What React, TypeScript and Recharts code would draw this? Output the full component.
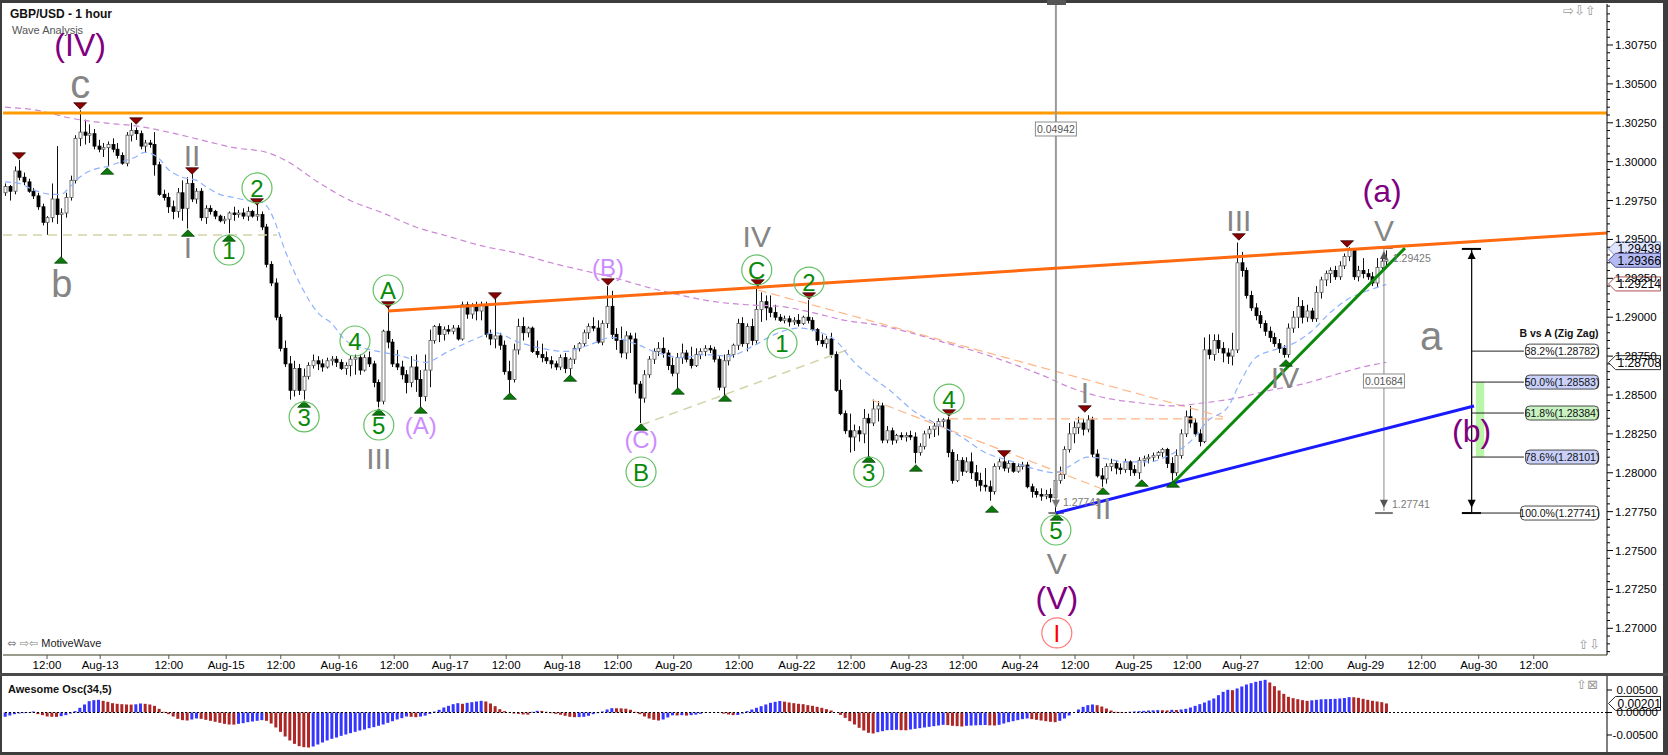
import React from "react";
import {
  ComposedChart,
  Bar,
  Line,
  XAxis,
  YAxis,
  Cell,
  ReferenceLine,
  ReferenceDot,
  ReferenceArea,
} from "recharts";

const FONT = "'Liberation Sans', Arial, sans-serif";
const ICON_FONT = "'DejaVu Sans', sans-serif";

// GBP/USD hourly bars: [open, high, low, close]
const candles: [number, number, number, number][] = [
  [1.298, 1.2986, 1.2978, 1.2984], [1.2984, 1.2985, 1.2975, 1.2981], [1.2981, 1.2997, 1.2979, 1.2994], [1.2994, 1.3001, 1.2988, 1.299], [1.299, 1.2993, 1.2985, 1.2987],
  [1.2987, 1.2989, 1.298, 1.2981], [1.2981, 1.2983, 1.2976, 1.2978], [1.2978, 1.298, 1.2969, 1.2971], [1.2971, 1.2973, 1.2959, 1.2961], [1.2961, 1.2965, 1.2953, 1.2964],
  [1.2964, 1.2986, 1.2961, 1.2976], [1.2976, 1.301, 1.296, 1.2966], [1.2966, 1.297, 1.2938, 1.2967], [1.2967, 1.298, 1.2964, 1.2977], [1.2977, 1.2991, 1.2975, 1.2988],
  [1.2988, 1.3017, 1.2986, 1.3015], [1.3015, 1.3033, 1.301, 1.3019], [1.3019, 1.3027, 1.3011, 1.3017], [1.3017, 1.3024, 1.3012, 1.3018], [1.3018, 1.3021, 1.3008, 1.301],
  [1.301, 1.3014, 1.3006, 1.3008], [1.3008, 1.3012, 1.3003, 1.3009], [1.3009, 1.3013, 1.2997, 1.3011], [1.3011, 1.3015, 1.3006, 1.3008], [1.3008, 1.3012, 1.3002, 1.3004],
  [1.3004, 1.3006, 1.2998, 1.2999], [1.2999, 1.3019, 1.2997, 1.3017], [1.3017, 1.3025, 1.3013, 1.302], [1.302, 1.3022, 1.3014, 1.3018], [1.3018, 1.302, 1.3008, 1.301],
  [1.301, 1.3014, 1.3006, 1.3012], [1.3012, 1.3014, 1.3009, 1.3011], [1.3011, 1.3019, 1.2991, 1.2998], [1.2998, 1.3, 1.2978, 1.2979], [1.2979, 1.2982, 1.2975, 1.2977],
  [1.2977, 1.298, 1.2967, 1.2971], [1.2971, 1.2975, 1.2963, 1.2968], [1.2968, 1.2983, 1.2964, 1.298], [1.298, 1.2988, 1.2962, 1.297], [1.297, 1.299, 1.2957, 1.2986],
  [1.2986, 1.2992, 1.2974, 1.2976], [1.2976, 1.2983, 1.2973, 1.2981], [1.2981, 1.2983, 1.2962, 1.2964], [1.2964, 1.2972, 1.296, 1.297], [1.297, 1.2972, 1.2966, 1.2968],
  [1.2968, 1.2969, 1.2963, 1.2965], [1.2965, 1.2966, 1.2961, 1.2962], [1.2962, 1.2965, 1.296, 1.2963], [1.2963, 1.2968, 1.2954, 1.2967], [1.2967, 1.2971, 1.2962, 1.2966],
  [1.2966, 1.2969, 1.2964, 1.2967], [1.2967, 1.297, 1.2963, 1.2965], [1.2965, 1.2971, 1.2962, 1.2968], [1.2968, 1.2969, 1.2964, 1.2965], [1.2965, 1.2974, 1.2962, 1.2966],
  [1.2966, 1.2968, 1.2956, 1.2958], [1.2958, 1.296, 1.2932, 1.2934], [1.2934, 1.2936, 1.292, 1.2922], [1.2922, 1.2925, 1.2898, 1.29], [1.29, 1.2902, 1.2878, 1.288],
  [1.288, 1.2885, 1.2868, 1.287], [1.287, 1.2875, 1.2847, 1.2853], [1.2853, 1.2872, 1.2849, 1.2867], [1.2867, 1.287, 1.285, 1.2853], [1.2853, 1.2867, 1.2847, 1.2862],
  [1.2862, 1.2871, 1.286, 1.2869], [1.2869, 1.2876, 1.2867, 1.2872], [1.2872, 1.2875, 1.2866, 1.287], [1.287, 1.2873, 1.2865, 1.2868], [1.2868, 1.2874, 1.2867, 1.2872],
  [1.2872, 1.2875, 1.2869, 1.2873], [1.2873, 1.2875, 1.2868, 1.2871], [1.2871, 1.2873, 1.2866, 1.2867], [1.2867, 1.2871, 1.2863, 1.2869], [1.2869, 1.2875, 1.2862, 1.2873],
  [1.2873, 1.2876, 1.2863, 1.2874], [1.2874, 1.2876, 1.2863, 1.2866], [1.2866, 1.2876, 1.2865, 1.2874], [1.2874, 1.2878, 1.2868, 1.287], [1.287, 1.2872, 1.2855, 1.2858],
  [1.2858, 1.286, 1.2842, 1.2846], [1.2846, 1.2892, 1.2844, 1.2891], [1.2891, 1.2908, 1.288, 1.2884], [1.2884, 1.2886, 1.2868, 1.287], [1.287, 1.2879, 1.2866, 1.2868],
  [1.2868, 1.2872, 1.286, 1.2863], [1.2863, 1.2866, 1.2851, 1.2858], [1.2858, 1.2875, 1.2855, 1.2868], [1.2868, 1.2876, 1.2852, 1.286], [1.286, 1.2866, 1.2841, 1.2849],
  [1.2849, 1.2876, 1.2846, 1.2866], [1.2866, 1.2892, 1.2855, 1.2885], [1.2885, 1.2895, 1.2883, 1.2894], [1.2894, 1.2896, 1.2884, 1.2889], [1.2889, 1.2894, 1.2885, 1.2892],
  [1.2892, 1.2895, 1.2889, 1.2891], [1.2891, 1.2895, 1.2889, 1.2893], [1.2893, 1.2895, 1.2885, 1.2886], [1.2886, 1.291, 1.2885, 1.2908], [1.2908, 1.291, 1.2899, 1.2902],
  [1.2902, 1.2909, 1.2899, 1.2907], [1.2907, 1.291, 1.2898, 1.2904], [1.2904, 1.291, 1.2898, 1.2908], [1.2908, 1.291, 1.2887, 1.2889], [1.2889, 1.2892, 1.2882, 1.2886],
  [1.2886, 1.2912, 1.288, 1.2888], [1.2888, 1.289, 1.2879, 1.2882], [1.2882, 1.2885, 1.2863, 1.2865], [1.2865, 1.2872, 1.2851, 1.286], [1.286, 1.2883, 1.2858, 1.2879],
  [1.2879, 1.2899, 1.2876, 1.2894], [1.2894, 1.29, 1.2885, 1.289], [1.289, 1.2894, 1.2887, 1.2893], [1.2893, 1.2894, 1.2877, 1.2878], [1.2878, 1.2885, 1.2874, 1.2876],
  [1.2876, 1.2883, 1.2871, 1.2874], [1.2874, 1.2878, 1.287, 1.2872], [1.2872, 1.2875, 1.2867, 1.287], [1.287, 1.2872, 1.2866, 1.2868], [1.2868, 1.2876, 1.2866, 1.2874],
  [1.2874, 1.2877, 1.2864, 1.2867], [1.2867, 1.2874, 1.2862, 1.2873], [1.2873, 1.2882, 1.287, 1.288], [1.288, 1.2884, 1.2878, 1.2883], [1.2883, 1.2892, 1.2881, 1.289],
  [1.289, 1.2896, 1.2886, 1.2894], [1.2894, 1.29, 1.2891, 1.2893], [1.2893, 1.2898, 1.2883, 1.2884], [1.2884, 1.2898, 1.2882, 1.2896], [1.2896, 1.292, 1.2893, 1.2907],
  [1.2907, 1.2917, 1.2886, 1.2889], [1.2889, 1.2893, 1.2879, 1.2885], [1.2885, 1.2894, 1.2874, 1.2877], [1.2877, 1.2891, 1.2873, 1.2888], [1.2888, 1.289, 1.2877, 1.2886],
  [1.2886, 1.289, 1.2851, 1.2857], [1.2857, 1.2859, 1.2832, 1.2848], [1.2848, 1.2866, 1.2845, 1.2863], [1.2863, 1.2875, 1.2861, 1.2873], [1.2873, 1.288, 1.287, 1.2878],
  [1.2878, 1.2884, 1.2875, 1.288], [1.288, 1.2887, 1.2874, 1.2877], [1.2877, 1.2879, 1.2866, 1.2869], [1.2869, 1.2874, 1.2862, 1.2864], [1.2864, 1.2877, 1.2854, 1.2874],
  [1.2874, 1.2883, 1.287, 1.2877], [1.2877, 1.2879, 1.2871, 1.2873], [1.2873, 1.2881, 1.2867, 1.2869], [1.2869, 1.288, 1.2868, 1.2876], [1.2876, 1.288, 1.2873, 1.2878],
  [1.2878, 1.2882, 1.2875, 1.288], [1.288, 1.2882, 1.2877, 1.2879], [1.2879, 1.2881, 1.2871, 1.2873], [1.2873, 1.2875, 1.2853, 1.2855], [1.2855, 1.2876, 1.285, 1.2872],
  [1.2872, 1.2879, 1.2869, 1.2876], [1.2876, 1.2883, 1.2874, 1.2882], [1.2882, 1.2899, 1.2879, 1.2896], [1.2896, 1.29, 1.2881, 1.2883], [1.2883, 1.2896, 1.2878, 1.2894],
  [1.2894, 1.2899, 1.2882, 1.2885], [1.2885, 1.2919, 1.2883, 1.2905], [1.2905, 1.2916, 1.2897, 1.291], [1.291, 1.2914, 1.2898, 1.2906], [1.2906, 1.2914, 1.29, 1.2903],
  [1.2903, 1.2908, 1.2898, 1.29], [1.29, 1.2902, 1.2897, 1.2898], [1.2898, 1.2901, 1.2896, 1.2899], [1.2899, 1.2901, 1.2894, 1.2897], [1.2897, 1.29, 1.2895, 1.2898],
  [1.2898, 1.2902, 1.2894, 1.2896], [1.2896, 1.2901, 1.2895, 1.29], [1.29, 1.2911, 1.2896, 1.2898], [1.2898, 1.29, 1.2891, 1.2892], [1.2892, 1.2893, 1.2882, 1.2885],
  [1.2885, 1.2889, 1.2881, 1.2883], [1.2883, 1.2888, 1.288, 1.2886], [1.2886, 1.289, 1.2874, 1.2876], [1.2876, 1.2878, 1.2852, 1.2853], [1.2853, 1.286, 1.2837, 1.2838],
  [1.2838, 1.284, 1.2825, 1.2827], [1.2827, 1.2838, 1.2813, 1.2823], [1.2823, 1.2831, 1.2814, 1.2827], [1.2827, 1.283, 1.282, 1.2825], [1.2825, 1.2841, 1.2819, 1.2835],
  [1.2835, 1.2838, 1.281, 1.2832], [1.2832, 1.2847, 1.283, 1.2841], [1.2841, 1.2846, 1.2833, 1.2843], [1.2843, 1.2845, 1.2819, 1.2821], [1.2821, 1.283, 1.2819, 1.2827],
  [1.2827, 1.2829, 1.2818, 1.2821], [1.2821, 1.2825, 1.2819, 1.2824], [1.2824, 1.2826, 1.2821, 1.2823], [1.2823, 1.2826, 1.282, 1.2824], [1.2824, 1.2827, 1.2821, 1.2823],
  [1.2823, 1.2826, 1.2806, 1.2813], [1.2813, 1.2819, 1.2811, 1.2817], [1.2817, 1.2827, 1.2815, 1.2825], [1.2825, 1.283, 1.2822, 1.2828], [1.2828, 1.2832, 1.2823, 1.283],
  [1.283, 1.2835, 1.2824, 1.2833], [1.2833, 1.2835, 1.2829, 1.2834], [1.2834, 1.2836, 1.281, 1.2813], [1.2813, 1.2815, 1.2793, 1.2795], [1.2795, 1.2812, 1.2794, 1.2808],
  [1.2808, 1.281, 1.2798, 1.2801], [1.2801, 1.281, 1.28, 1.2807], [1.2807, 1.2813, 1.2796, 1.28], [1.28, 1.2805, 1.2791, 1.2795], [1.2795, 1.28, 1.2788, 1.2792],
  [1.2792, 1.2803, 1.2788, 1.2791], [1.2791, 1.2795, 1.2782, 1.2788], [1.2788, 1.2806, 1.2786, 1.2804], [1.2804, 1.2809, 1.2802, 1.2807], [1.2807, 1.281, 1.2801, 1.2803],
  [1.2803, 1.2808, 1.28, 1.2806], [1.2806, 1.2807, 1.28, 1.2801], [1.2801, 1.2806, 1.28, 1.2804], [1.2804, 1.2807, 1.2802, 1.2805], [1.2805, 1.2807, 1.279, 1.2791],
  [1.2791, 1.2793, 1.2784, 1.2788], [1.2788, 1.279, 1.2784, 1.2786], [1.2786, 1.279, 1.2782, 1.2785], [1.2785, 1.2789, 1.2783, 1.2786], [1.2786, 1.279, 1.2781, 1.2784],
  [1.2784, 1.2799, 1.2774, 1.2795], [1.2795, 1.2804, 1.2793, 1.2799], [1.2799, 1.2817, 1.2796, 1.2815], [1.2815, 1.2832, 1.2813, 1.2825], [1.2825, 1.2833, 1.2819, 1.2829],
  [1.2829, 1.2836, 1.2825, 1.2832], [1.2832, 1.2835, 1.2824, 1.2828], [1.2828, 1.2837, 1.2826, 1.2834], [1.2834, 1.2836, 1.281, 1.2812], [1.2812, 1.2815, 1.2797, 1.2798],
  [1.2798, 1.2803, 1.2791, 1.2796], [1.2796, 1.2806, 1.2793, 1.2804], [1.2804, 1.2809, 1.2801, 1.2806], [1.2806, 1.2808, 1.2799, 1.2803], [1.2803, 1.2806, 1.2799, 1.2802],
  [1.2802, 1.2809, 1.28, 1.2807], [1.2807, 1.2808, 1.2798, 1.2802], [1.2802, 1.2805, 1.2798, 1.28], [1.28, 1.281, 1.2796, 1.2808], [1.2808, 1.2811, 1.2804, 1.2809],
  [1.2809, 1.2812, 1.2806, 1.281], [1.281, 1.2813, 1.2807, 1.2811], [1.2811, 1.2814, 1.2809, 1.2813], [1.2813, 1.2816, 1.281, 1.2815], [1.2815, 1.2816, 1.2803, 1.2806],
  [1.2806, 1.281, 1.2795, 1.28], [1.28, 1.2815, 1.2798, 1.2811], [1.2811, 1.2828, 1.2809, 1.2825], [1.2825, 1.284, 1.2823, 1.2836], [1.2836, 1.2843, 1.2829, 1.2832],
  [1.2832, 1.2835, 1.2823, 1.2825], [1.2825, 1.2828, 1.2817, 1.282], [1.282, 1.2887, 1.2819, 1.2879], [1.2879, 1.2889, 1.2873, 1.2876], [1.2876, 1.2889, 1.2872, 1.2885],
  [1.2885, 1.2889, 1.2877, 1.288], [1.288, 1.2884, 1.2871, 1.2877], [1.2877, 1.288, 1.287, 1.2875], [1.2875, 1.289, 1.2869, 1.2879], [1.2879, 1.2948, 1.2877, 1.2935],
  [1.2935, 1.2942, 1.2926, 1.293], [1.293, 1.2932, 1.2912, 1.2914], [1.2914, 1.2917, 1.2904, 1.2906], [1.2906, 1.2909, 1.2898, 1.2901], [1.2901, 1.2904, 1.2893, 1.2896],
  [1.2896, 1.2898, 1.2888, 1.2891], [1.2891, 1.2894, 1.2884, 1.2887], [1.2887, 1.289, 1.2881, 1.2883], [1.2883, 1.2886, 1.2877, 1.288], [1.288, 1.2882, 1.2874, 1.2876],
  [1.2876, 1.2896, 1.2874, 1.2893], [1.2893, 1.2904, 1.289, 1.29], [1.29, 1.2913, 1.2893, 1.2907], [1.2907, 1.2911, 1.2896, 1.29], [1.29, 1.2908, 1.2897, 1.2904],
  [1.2904, 1.2906, 1.2897, 1.2899], [1.2899, 1.292, 1.2897, 1.2916], [1.2916, 1.2926, 1.2912, 1.2924], [1.2924, 1.293, 1.292, 1.2928], [1.2928, 1.2932, 1.2922, 1.293],
  [1.293, 1.2933, 1.2924, 1.2926], [1.2926, 1.2936, 1.2924, 1.2933], [1.2933, 1.2941, 1.2931, 1.2939], [1.2939, 1.2945, 1.2936, 1.2943], [1.2943, 1.2944, 1.2924, 1.2926],
  [1.2926, 1.2933, 1.2923, 1.293], [1.293, 1.2938, 1.2925, 1.2928], [1.2928, 1.2931, 1.2924, 1.2926], [1.2926, 1.2929, 1.292, 1.2922], [1.2922, 1.2938, 1.2919, 1.2932],
  [1.2932, 1.2938, 1.293, 1.2936], [1.2936, 1.2943, 1.2933, 1.2937],
];

// Awesome Osc(34,5), one value per bar, in units of 0.0001
const aoValues = [
  -9.6, -6.7, -3.7, -2.2, -1.5, -0.7, 2.2, -3.7, -5.9, -8.9,
  -9.6, -9.8, -8.2, -5.9, -2.2, 3.0, 10.4, 17.8, 25.2, 27.4,
  28.1, 25.9, 23.7, 20.7, 19.3, 18.5, 17.8, 17.6, 18.2, 20.0,
  19.3, 17.8, 14.8, 8.2, 1.5, -3.7, -8.9, -14.1, -17.0, -17.8,
  -15.6, -13.3, -14.1, -16.3, -18.5, -20.7, -23.0, -25.2, -26.7, -27.0,
  -25.2, -23.7, -21.5, -20.0, -18.5, -17.0, -18.5, -24.5, -33.3, -43.0,
  -53.4, -62.2, -69.7, -74.8, -77.1, -77.8, -75.6, -71.1, -66.7, -62.2,
  -58.5, -55.6, -51.9, -48.9, -45.9, -43.0, -40.0, -37.8, -34.8, -32.6,
  -29.6, -26.7, -23.0, -19.3, -15.6, -12.6, -8.9, -9.6, -10.4, -9.0,
  -7.0, -3.0, 2.0, 6.0, 11.1, 14.8, 18.5, 20.7, 19.3, 21.5,
  23.0, 24.5, 25.9, 24.5, 20.0, 14.1, 7.4, 3.0, -0.7, -2.2,
  -3.0, -4.4, -4.8, 1.5, 3.7, 3.5, 1.5, -1.5, -3.0, -5.0,
  -7.4, -9.6, -10.4, -10.2, -9.6, -7.4, -3.7, -1.5, 2.2, 6.7,
  9.6, 9.4, 9.2, 8.5, 6.0, 1.5, -3.7, -8.9, -13.3, -16.3,
  -17.8, -15.6, -11.1, -6.3, -6.7, -6.0, -6.9, -5.9, -4.8, -3.0,
  -0.7, -0.8, 0.5, -0.5, -2.5, -4.4, -5.9, -5.5, -2.2, 3.0,
  6.7, 10.4, 14.1, 17.8, 21.5, 23.7, 25.6, 24.1, 22.2, 20.7,
  19.3, 18.5, 16.3, 14.8, 12.6, 10.4, 7.4, 4.4, 0.0, -5.2,
  -11.9, -19.3, -26.7, -34.1, -40.0, -45.2, -46.7, -43.7, -41.5, -39.3,
  -39.0, -38.5, -39.3, -39.6, -37.8, -36.3, -34.8, -33.3, -31.9, -30.4,
  -28.9, -27.4, -28.1, -29.6, -30.4, -31.1, -29.6, -29.0, -28.5, -28.1,
  -27.8, -28.5, -28.9, -27.4, -24.5, -21.5, -19.3, -17.0, -14.8, -13.3,
  -14.8, -16.3, -17.8, -19.3, -20.7, -21.5, -18.5, -13.3, -6.7, 0.0,
  6.7, 12.6, 16.3, 17.8, 16.3, 13.3, 8.9, 4.4, 1.5, 1.2,
  1.0, 1.6, 2.2, 3.0, 3.7, 4.4, 4.8, 5.2, 5.0, 4.6,
  5.9, 5.5, 6.7, 8.2, 11.1, 14.8, 18.5, 22.2, 26.7, 31.1,
  38.5, 45.9, 50.4, 49.6, 53.4, 57.8, 62.2, 65.2, 68.2, 70.4,
  72.6, 66.7, 58.5, 48.9, 41.5, 34.8, 31.9, 29.6, 27.4, 25.9,
  27.0, 28.1, 29.3, 29.6, 30.0, 30.4, 31.1, 32.2, 34.1, 33.8,
  32.6, 30.4, 28.1, 26.0, 24.5, 23.0, 20.1,
];

// moving averages, read at some bars: [bar, price]
const fastMa: [number, number][] = [
  [0, 1.2987], [3, 1.2986], [6, 1.2982], [10, 1.2979], [12, 1.2979], [14, 1.2984], [16, 1.299], [19, 1.2995],
  [22, 1.2997], [25, 1.3], [28, 1.3003], [30, 1.3006], [33, 1.3002], [35, 1.2995], [38, 1.299], [41, 1.2988],
  [43, 1.2984], [46, 1.2979], [49, 1.2977], [52, 1.2975], [55, 1.2974], [57, 1.2967], [58, 1.296], [60, 1.2943],
  [62, 1.2929], [64, 1.2917], [67, 1.2903], [70, 1.2896], [73, 1.2885], [76, 1.2881], [80, 1.2878], [85, 1.2875],
  [90, 1.2871], [95, 1.2878], [100, 1.2885], [105, 1.289], [110, 1.2884], [115, 1.288], [120, 1.2878], [125, 1.2882],
  [130, 1.2887], [135, 1.2883], [140, 1.2877], [145, 1.2874], [150, 1.2876], [155, 1.2875], [160, 1.2881], [165, 1.2889],
  [170, 1.2893], [174, 1.2891], [178, 1.2885], [182, 1.2871], [186, 1.2861], [190, 1.2852], [195, 1.2839], [200, 1.2831],
  [205, 1.2823], [210, 1.2813], [215, 1.2808], [220, 1.2803], [225, 1.28], [228, 1.2804], [232, 1.281], [236, 1.2809],
  [240, 1.2807], [245, 1.2807], [250, 1.2812], [254, 1.282], [258, 1.2834], [262, 1.2842], [265, 1.286], [268, 1.2874],
  [272, 1.2879], [276, 1.2883], [280, 1.2891], [284, 1.2903], [288, 1.2912], [292, 1.2917], [296, 1.2921],
];
const slowMa: [number, number][] = [
  [0, 1.3035], [7, 1.3033], [14, 1.3028], [21, 1.3025], [28, 1.3023], [35, 1.3019], [42, 1.3014], [49, 1.3009],
  [56, 1.3006], [60, 1.3001], [67, 1.2987], [74, 1.2975], [81, 1.2967], [88, 1.2958], [95, 1.2952], [102, 1.2946],
  [110, 1.2941], [117, 1.2935], [124, 1.293], [131, 1.2925], [138, 1.2919], [145, 1.2914], [152, 1.291], [159, 1.2908],
  [166, 1.2907], [173, 1.2903], [180, 1.2898], [187, 1.2895], [194, 1.289], [201, 1.2884], [208, 1.2878], [215, 1.2871],
  [222, 1.2863], [229, 1.2854], [236, 1.2848], [243, 1.2845], [250, 1.2843], [257, 1.2845], [264, 1.2848], [271, 1.2853],
  [278, 1.2857], [285, 1.2863], [291, 1.2868], [296, 1.2871],
];

const timeTickBars = [9, 20.4, 35.1, 47.4, 59.1, 71.6, 83.4, 95.4, 107.4, 119.4, 131.3, 143.3, 157.3, 169.7, 181.3, 193.7, 205.3, 217.5, 229.3, 241.9, 253.3, 264.8, 279.4, 291.6, 303.6, 315.8, 327.6];
const timeTickLabels = ["12:00", "Aug-13", "12:00", "Aug-15", "12:00", "Aug-16", "12:00", "Aug-17", "12:00", "Aug-18", "12:00", "Aug-20", "12:00", "Aug-22", "12:00", "Aug-23", "12:00", "Aug-24", "12:00", "Aug-25", "12:00", "Aug-27", "12:00", "Aug-29", "12:00", "Aug-30", "12:00"];
const priceTickLabels = [1.27, 1.2725, 1.275, 1.2775, 1.28, 1.2825, 1.285, 1.2875, 1.29, 1.2925, 1.295, 1.2975, 1.3, 1.3025, 1.305, 1.3075];
const aoTickLabels = [-0.005, 0, 0.005];

type Kind = "roman" | "letter" | "tall" | "degree" | "minor" | "circle" | "circleRed";
const waveLabels: { bar: number; price: number; text: string; kind: Kind }[] = [
  { bar: 16.1, price: 1.30737, text: "(IV)", kind: "degree" },
  { bar: 16.1, price: 1.30474, text: "c", kind: "letter" },
  { bar: 12.2, price: 1.2922, text: "b", kind: "tall" },
  { bar: 40.1, price: 1.30043, text: "II", kind: "roman" },
  { bar: 39.2, price: 1.29451, text: "I", kind: "roman" },
  { bar: 80.1, price: 1.28095, text: "III", kind: "roman" },
  { bar: 161.1, price: 1.29522, text: "IV", kind: "roman" },
  { bar: 225.4, price: 1.2742, text: "V", kind: "roman" },
  { bar: 231.4, price: 1.28519, text: "I", kind: "roman" },
  { bar: 235.3, price: 1.27773, text: "II", kind: "roman" },
  { bar: 264.4, price: 1.29625, text: "III", kind: "roman" },
  { bar: 274.3, price: 1.28616, text: "IV", kind: "roman" },
  { bar: 295.5, price: 1.29561, text: "V", kind: "roman" },
  { bar: 305.6, price: 1.28853, text: "a", kind: "letter" },
  { bar: 225.4, price: 1.27182, text: "(V)", kind: "degree" },
  { bar: 295.1, price: 1.29799, text: "(a)", kind: "degree" },
  { bar: 314.3, price: 1.28256, text: "(b)", kind: "degree" },
  { bar: 129.2, price: 1.29304, text: "(B)", kind: "minor" },
  { bar: 89.1, price: 1.28294, text: "(A)", kind: "minor" },
  { bar: 136.3, price: 1.28198, text: "(C)", kind: "minor" },
  { bar: 54.0, price: 1.29831, text: "2", kind: "circle" },
  { bar: 48.0, price: 1.29432, text: "1", kind: "circle" },
  { bar: 82.1, price: 1.29175, text: "A", kind: "circle" },
  { bar: 64.1, price: 1.28359, text: "3", kind: "circle" },
  { bar: 75.0, price: 1.28847, text: "4", kind: "circle" },
  { bar: 80.1, price: 1.28307, text: "5", kind: "circle" },
  { bar: 161.1, price: 1.29304, text: "C", kind: "circle" },
  { bar: 172.3, price: 1.29226, text: "2", kind: "circle" },
  { bar: 166.5, price: 1.28834, text: "1", kind: "circle" },
  { bar: 136.3, price: 1.28005, text: "B", kind: "circle" },
  { bar: 185.1, price: 1.28005, text: "3", kind: "circle" },
  { bar: 202.3, price: 1.28474, text: "4", kind: "circle" },
  { bar: 225.2, price: 1.27632, text: "5", kind: "circle" },
  { bar: 225.4, price: 1.2697, text: "I", kind: "circleRed" },
];

// swing markers: [bar, price]
const swingHighs: [number, number][] = [
  [3.0, 1.30036], [16.1, 1.30358], [28.1, 1.30261], [40.1, 1.2994], [54.0, 1.29741], [82.1, 1.29079],
  [105.0, 1.29136], [129.2, 1.29226], [161.3, 1.2922], [172.3, 1.29136], [202.3, 1.28384], [214.1, 1.28121],
  [231.4, 1.2841], [264.4, 1.29516], [287.6, 1.29471],
];
const swingLows: [number, number][] = [
  [12.0, 1.29368], [21.9, 1.2994], [39.2, 1.29541], [48.0, 1.29509], [64.1, 1.28442], [80.1, 1.28391],
  [89.1, 1.28404], [108.2, 1.28493], [121.1, 1.28609], [144.2, 1.28526], [154.3, 1.28481], [136.3, 1.28294],
  [185.1, 1.28088], [195.2, 1.28031], [211.5, 1.27767], [225.4, 1.27716], [235.3, 1.27883], [243.6, 1.27934],
  [250.3, 1.27928], [274.5, 1.28706],
];

type LineKind = "channel" | "support" | "trend" | "tan" | "peach";
const trendLines: { x1: number; y1: number; x2: number; y2: number; kind: LineKind }[] = [
  { x1: -0.43, y1: 1.29529, x2: 58.3, y2: 1.29529, kind: "tan" },
  { x1: 136.3, y1: 1.28307, x2: 180.4, y2: 1.28789, kind: "tan" },
  { x1: 161.3, y1: 1.29175, x2: 261.0, y2: 1.28359, kind: "peach" },
  { x1: 185.8, y1: 1.28468, x2: 235.1, y2: 1.27896, kind: "peach" },
  { x1: 202.3, y1: 1.28346, x2: 261.0, y2: 1.28346, kind: "peach" },
  { x1: 82.1, y1: 1.2904, x2: 343.3, y2: 1.29541, kind: "channel" },
  { x1: 225.2, y1: 1.27741, x2: 314.8, y2: 1.28429, kind: "support" },
  { x1: 250.3, y1: 1.27934, x2: 300.0, y2: 1.29444, kind: "trend" },
];
const resistanceLevel = 1.30313;

const fibLevels = [
  { text: "38.2%(1.28782)", price: 1.28782, fill: "#ffffff" },
  { text: "50.0%(1.28583)", price: 1.28583, fill: "#c9d1fb" },
  { text: "61.8%(1.28384)", price: 1.28384, fill: "#c8f2c2" },
  { text: "78.6%(1.28101)", price: 1.28101, fill: "#c9d1fb" },
  { text: "100.0%(1.27741)", price: 1.27741, fill: "#ffffff" },
];
const zigTop = 1.29439;
const zigBottom = 1.27741;

const priceTags = [
  { price: 1.29439, text: "1.29439", fill: "#dfe5ff", stroke: "#8090c8" },
  { price: 1.29366, text: "1.29366", fill: "#b3baf3", stroke: "#505090" },
  { price: 1.29214, text: "1.29214", fill: "#ffffff", stroke: "#b05050" },
  { price: 1.28708, text: "1.28708", fill: "#ffffff", stroke: "#333333" },
];
const aoLast = 0.00201;

const X_DOMAIN: [number, number] = [-0.43, 343.3];
const PRICE_DOMAIN: [number, number] = [1.268284, 1.310136];
const AO_DOMAIN: [number, number] = [-0.00878, 0.00811];
const X_MAX = X_DOMAIN[1];
const LABEL_RIGHT_BAR = 341.5;

const LINE_STYLE: Record<LineKind, { stroke: string; width: number; dash?: string }> = {
  channel: { stroke: "#ff6a10", width: 3 },
  support: { stroke: "#1a1aff", width: 3 },
  trend: { stroke: "#0b8a0b", width: 3 },
  tan: { stroke: "#d3d3a8", width: 1.5, dash: "9 6" },
  peach: { stroke: "#ffb585", width: 1.2, dash: "9 5" },
};

const KIND_STYLE: Record<Kind, { fill: string; size: number; lift: number; ring?: string }> = {
  roman: { fill: "#858585", size: 30, lift: 0.36 },
  letter: { fill: "#858585", size: 40, lift: 0.26 },
  tall: { fill: "#858585", size: 38, lift: 0.36 },
  degree: { fill: "#800080", size: 32, lift: 0.27 },
  minor: { fill: "#cc8cff", size: 24, lift: 0.27 },
  circle: { fill: "#088a08", size: 24, lift: 0.36, ring: "#64c064" },
  circleRed: { fill: "#ff0000", size: 24, lift: 0.36, ring: "#ff7878" },
};

const fastByBar = new Map(fastMa);
const slowByBar = new Map(slowMa);

const rows = candles.map(([o, h, l, c], i) => ({
  i,
  o,
  h,
  l,
  c,
  range: [l, h] as [number, number],
  ao: aoValues[i] / 10000,
  fast: fastByBar.get(i) ?? null,
  slow: slowByBar.get(i) ?? null,
}));

const aoColors = rows.map((r, i) => (i === 0 || r.ao >= rows[i - 1].ao ? "#3636ff" : "#ae2626"));

// minor ticks every 5 pips on the price scale
const priceGrid = Array.from({ length: 84 }, (_, k) => Math.round((1.2685 + k * 0.0005) * 10000) / 10000);

function Candle(props: any) {
  const { x, y, width, height } = props;
  const d = props.payload ?? props;
  const top = Math.min(y, y + height);
  const span = Math.abs(height);
  const k = d.h > d.l ? span / (d.h - d.l) : 0;
  const cx = Math.round(x + width / 2) + 0.5;
  const yo = top + (d.h - d.o) * k;
  const yc = top + (d.h - d.c) * k;
  const up = d.c >= d.o;
  return (
    <g>
      <line x1={cx} x2={cx} y1={top} y2={top + span} stroke="#111" strokeWidth={1} />
      <rect
        x={cx - 1.5}
        y={Math.min(yo, yc)}
        width={3}
        height={Math.max(1, Math.abs(yc - yo))}
        fill={up ? "#ffffff" : "#000000"}
        stroke={up ? "#555" : "#000"}
        strokeWidth={0.8}
      />
    </g>
  );
}

function PriceTick(props: any) {
  const { x, y, payload } = props;
  const v = payload.value as number;
  const major = priceTickLabels.some((m) => Math.abs(m - v) < 1e-7);
  return (
    <g>
      <line x1={x} x2={x + (major ? 6 : 3)} y1={y} y2={y} stroke="#000" />
      {major && (
        <text x={x + 8} y={y + 4} fontSize={11.5} fontFamily={FONT} fill="#000">
          {v.toFixed(5)}
        </text>
      )}
    </g>
  );
}

function AoTick(props: any) {
  const { x, y, payload } = props;
  const v = payload.value as number;
  return (
    <g>
      <line x1={x} x2={x + 5} y1={y} y2={y} stroke="#000" />
      <text x={x + 51} y={y + 4} fontSize={11.5} fontFamily={FONT} fill="#000" textAnchor="end">
        {v.toFixed(5)}
      </text>
    </g>
  );
}

function WaveText({ cx, cy, text, kind }: { cx: number; cy: number; text: string; kind: Kind }) {
  const s = KIND_STYLE[kind];
  return (
    <g>
      {s.ring && <circle cx={cx} cy={cy} r={15} fill="none" stroke={s.ring} strokeWidth={1.2} />}
      <text x={cx} y={cy + s.size * s.lift} textAnchor="middle" fontSize={s.size} fontFamily={FONT} fill={s.fill}>
        {text}
      </text>
    </g>
  );
}

function Marker({ cx, cy, down }: { cx: number; cy: number; down: boolean }) {
  const w = 6.5;
  const h = 6.5;
  const d = down
    ? `M${cx - w},${cy - h / 2} L${cx + w},${cy - h / 2} L${cx},${cy + h / 2} Z`
    : `M${cx - w},${cy + h / 2} L${cx + w},${cy + h / 2} L${cx},${cy - h / 2} Z`;
  return <path d={d} fill={down ? "#8a0000" : "#0a7a0a"} stroke={down ? "#2a0000" : "#023302"} strokeWidth={0.7} />;
}

function Arrow({ cx, cy, down, color }: { cx: number; cy: number; down: boolean; color: string }) {
  const d = down
    ? `M${cx - 4},${cy - 8} L${cx + 4},${cy - 8} L${cx},${cy} Z`
    : `M${cx - 4},${cy + 8} L${cx + 4},${cy + 8} L${cx},${cy} Z`;
  return <path d={d} fill={color} />;
}

function ValueBox({ cx, cy, text }: { cx: number; cy: number; text: string }) {
  return (
    <g>
      <rect x={cx - 20.5} y={cy - 7} width={41} height={14} fill="#fff" stroke="#8c8c8c" />
      <text x={cx} y={cy + 4} textAnchor="middle" fontSize={10.5} fontFamily={FONT} fill="#555">
        {text}
      </text>
    </g>
  );
}

function SmallText({ cx, cy, text }: { cx: number; cy: number; text: string }) {
  return (
    <text x={cx} y={cy + 4} fontSize={10.5} fontFamily={FONT} fill="#7a7a7a">
      {text}
    </text>
  );
}

function Tag({ cx, cy, text, fill, stroke }: { cx: number; cy: number; text: string; fill: string; stroke: string }) {
  const x0 = cx + 1.5;
  const h = 14;
  return (
    <g>
      <path
        d={`M${x0},${cy} L${x0 + 7},${cy - h / 2} L${x0 + 52},${cy - h / 2} L${x0 + 52},${cy + h / 2} L${x0 + 7},${cy + h / 2} Z`}
        fill={fill}
        stroke={stroke}
      />
      <text x={x0 + 9} y={cy + 4.5} fontSize={12} fontFamily={FONT} fill="#000">
        {text}
      </text>
    </g>
  );
}

function FibBox({ cx, cy, text, fill }: { cx: number; cy: number; text: string; fill: string }) {
  const w = text.length > 14 ? 78 : 73;
  return (
    <g>
      <rect x={cx - w} y={cy - 7} width={w} height={14} rx={4} fill={fill} stroke="#4a4a4a" />
      <text x={cx - w / 2} y={cy + 4} textAnchor="middle" fontSize={10.5} fontFamily={FONT} fill="#111">
        {text}
      </text>
    </g>
  );
}

export default function App() {
  return (
    <div
      style={{
        position: "fixed",
        left: 0,
        top: 0,
        width: 1668,
        height: 755,
        background: "#fff",
        overflow: "hidden",
        fontFamily: FONT,
      }}
    >
      <div style={{ position: "absolute", left: 10, top: 7, fontSize: 12, fontWeight: "bold", color: "#111" }}>
        GBP/USD - 1 hour
      </div>
      <div style={{ position: "absolute", left: 12, top: 24, fontSize: 11, color: "#555" }}>Wave Analysis</div>

      <div style={{ position: "absolute", left: 0, top: 0 }}>
        <ComposedChart width={1668} height={674} data={rows} margin={{ top: 4, right: 3, bottom: 0, left: 3 }}>
          <XAxis
            dataKey="i"
            type="number"
            domain={X_DOMAIN}
            allowDataOverflow
            ticks={timeTickBars}
            interval={0}
            tickFormatter={(v: number) => timeTickLabels[timeTickBars.indexOf(v)] ?? ""}
            height={19}
            tickSize={4}
            tickMargin={2}
            tick={{ fontSize: 11.5, fill: "#000", fontFamily: FONT }}
            axisLine={{ stroke: "#9c9c8c", strokeWidth: 2 }}
            tickLine={{ stroke: "#555" }}
          />
          <YAxis
            orientation="right"
            type="number"
            domain={PRICE_DOMAIN}
            allowDataOverflow
            ticks={priceGrid}
            interval={0}
            width={58}
            tickSize={0}
            tickMargin={0}
            tickLine={false}
            tick={(p: any) => <PriceTick {...p} />}
            axisLine={{ stroke: "#000" }}
          />

          {trendLines
            .filter((t) => t.kind === "tan" || t.kind === "peach")
            .map((t, k) => (
              <ReferenceLine
                key={`d${k}`}
                segment={[{ x: t.x1, y: t.y1 }, { x: t.x2, y: t.y2 }]}
                stroke={LINE_STYLE[t.kind].stroke}
                strokeWidth={LINE_STYLE[t.kind].width}
                strokeDasharray={LINE_STYLE[t.kind].dash}
                ifOverflow="visible"
              />
            ))}

          <ReferenceArea x1={315.2} x2={317.0} y1={1.28101} y2={1.28583} fill="#b9f6a8" fillOpacity={1} stroke="none" ifOverflow="visible" />

          <Line dataKey="slow" type="monotone" stroke="#cc88d6" strokeWidth={1.2} strokeDasharray="6 4" dot={false} connectNulls isAnimationActive={false} />
          <Line dataKey="fast" type="monotone" stroke="#8fb2ff" strokeWidth={1.2} strokeDasharray="6 4" dot={false} connectNulls isAnimationActive={false} />

          <ReferenceLine y={resistanceLevel} stroke="#ff9a00" strokeWidth={3} ifOverflow="visible" />

          <ReferenceLine segment={[{ x: 225.2, y: PRICE_DOMAIN[1] }, { x: 225.2, y: 1.2778 }]} stroke="#9a9a9a" strokeWidth={2} ifOverflow="visible" />
          <ReferenceLine segment={[{ x: 223.6, y: zigBottom }, { x: 226.9, y: zigBottom }]} stroke="#777" strokeWidth={2} ifOverflow="visible" />
          <ReferenceLine segment={[{ x: 295.5, y: 1.29445 }, { x: 295.5, y: 1.27754 }]} stroke="#8a8a8a" strokeWidth={1} ifOverflow="visible" />
          <ReferenceLine segment={[{ x: 293.6, y: 1.29445 }, { x: 297.4, y: 1.29445 }]} stroke="#777" strokeWidth={2} ifOverflow="visible" />
          <ReferenceLine segment={[{ x: 293.6, y: zigBottom }, { x: 297.4, y: zigBottom }]} stroke="#777" strokeWidth={2} ifOverflow="visible" />

          <ReferenceLine segment={[{ x: 314.3, y: zigTop }, { x: 314.3, y: zigBottom }]} stroke="#000" strokeWidth={1.2} ifOverflow="visible" />
          <ReferenceLine segment={[{ x: 312.2, y: zigTop }, { x: 316.3, y: zigTop }]} stroke="#000" strokeWidth={2} ifOverflow="visible" />
          <ReferenceLine segment={[{ x: 312.2, y: zigBottom }, { x: 316.3, y: zigBottom }]} stroke="#000" strokeWidth={2} ifOverflow="visible" />
          {fibLevels.map((f, k) => (
            <ReferenceLine
              key={`f${k}`}
              segment={[{ x: 314.3, y: f.price }, { x: 325.5, y: f.price }]}
              stroke="#222"
              strokeWidth={1}
              ifOverflow="visible"
            />
          ))}

          <Bar dataKey="range" barSize={3} isAnimationActive={false} shape={(p: any) => <Candle {...p} />} />

          {trendLines
            .filter((t) => t.kind !== "tan" && t.kind !== "peach")
            .map((t, k) => (
              <ReferenceLine
                key={`s${k}`}
                segment={[{ x: t.x1, y: t.y1 }, { x: t.x2, y: t.y2 }]}
                stroke={LINE_STYLE[t.kind].stroke}
                strokeWidth={LINE_STYLE[t.kind].width}
                ifOverflow="visible"
              />
            ))}

          {swingHighs.map(([b, p], k) => (
            <ReferenceDot key={`h${k}`} x={b} y={p} r={0} ifOverflow="visible" shape={(q: any) => <Marker cx={q.cx} cy={q.cy} down />} />
          ))}
          {swingLows.map(([b, p], k) => (
            <ReferenceDot key={`l${k}`} x={b} y={p} r={0} ifOverflow="visible" shape={(q: any) => <Marker cx={q.cx} cy={q.cy} down={false} />} />
          ))}

          <ReferenceDot x={225.2} y={1.27775} r={0} ifOverflow="visible" shape={(q: any) => <Arrow cx={q.cx} cy={q.cy} down color="#777" />} />
          <ReferenceDot x={295.5} y={1.29425} r={0} ifOverflow="visible" shape={(q: any) => <Arrow cx={q.cx} cy={q.cy} down={false} color="#555" />} />
          <ReferenceDot x={295.5} y={1.27775} r={0} ifOverflow="visible" shape={(q: any) => <Arrow cx={q.cx} cy={q.cy} down color="#555" />} />
          <ReferenceDot x={314.3} y={1.29425} r={0} ifOverflow="visible" shape={(q: any) => <Arrow cx={q.cx} cy={q.cy} down={false} color="#000" />} />
          <ReferenceDot x={314.3} y={1.27775} r={0} ifOverflow="visible" shape={(q: any) => <Arrow cx={q.cx} cy={q.cy} down color="#000" />} />

          <ReferenceDot x={225.2} y={1.3021} r={0} ifOverflow="visible" shape={(q: any) => <ValueBox cx={q.cx} cy={q.cy} text="0.04942" />} />
          <ReferenceDot x={295.5} y={1.2859} r={0} ifOverflow="visible" shape={(q: any) => <ValueBox cx={q.cx} cy={q.cy} text="0.01684" />} />
          <ReferenceDot x={226.7} y={1.27812} r={0} ifOverflow="visible" shape={(q: any) => <SmallText cx={q.cx} cy={q.cy} text="1.27741" />} />
          <ReferenceDot x={297.2} y={1.27799} r={0} ifOverflow="visible" shape={(q: any) => <SmallText cx={q.cx} cy={q.cy} text="1.27741" />} />
          <ReferenceDot x={297.4} y={1.29381} r={0} ifOverflow="visible" shape={(q: any) => <SmallText cx={q.cx} cy={q.cy} text="1.29425" />} />

          {waveLabels.map((w, k) => (
            <ReferenceDot
              key={`w${k}`}
              x={w.bar}
              y={w.price}
              r={0}
              ifOverflow="visible"
              shape={(q: any) => <WaveText cx={q.cx} cy={q.cy} text={w.text} kind={w.kind} />}
            />
          ))}

          <ReferenceDot
            x={LABEL_RIGHT_BAR}
            y={1.28899}
            r={0}
            ifOverflow="visible"
            shape={(q: any) => (
              <text x={q.cx} y={q.cy + 4} textAnchor="end" fontSize={10.5} fontWeight="bold" fontFamily={FONT} fill="#111">
                B vs A (Zig Zag)
              </text>
            )}
          />
          {fibLevels.map((f, k) => (
            <ReferenceDot
              key={`fb${k}`}
              x={LABEL_RIGHT_BAR}
              y={f.price}
              r={0}
              ifOverflow="visible"
              shape={(q: any) => <FibBox cx={q.cx} cy={q.cy} text={f.text} fill={f.fill} />}
            />
          ))}

          {priceTags.map((t, k) => (
            <ReferenceDot
              key={`t${k}`}
              x={X_MAX}
              y={t.price}
              r={0}
              ifOverflow="visible"
              shape={(q: any) => <Tag cx={q.cx} cy={q.cy} text={t.text} fill={t.fill} stroke={t.stroke} />}
            />
          ))}
        </ComposedChart>
      </div>

      <div style={{ position: "absolute", left: 0, top: 676 }}>
        <ComposedChart width={1668} height={76} data={rows} margin={{ top: 0, right: 3, bottom: 0, left: 3 }}>
          <XAxis dataKey="i" type="number" domain={X_DOMAIN} allowDataOverflow hide />
          <YAxis
            orientation="right"
            type="number"
            domain={AO_DOMAIN}
            allowDataOverflow
            ticks={aoTickLabels}
            interval={0}
            width={58}
            tickSize={0}
            tickMargin={0}
            tickLine={false}
            tick={(p: any) => <AoTick {...p} />}
            axisLine={{ stroke: "#000" }}
          />
          <ReferenceLine y={0} stroke="#000" strokeDasharray="2 2" strokeWidth={1} />
          <Bar dataKey="ao" barSize={3} isAnimationActive={false}>
            {rows.map((r, k) => (
              <Cell key={k} fill={aoColors[k]} />
            ))}
          </Bar>
          <ReferenceDot
            x={X_MAX}
            y={aoLast}
            r={0}
            ifOverflow="visible"
            shape={(q: any) => <Tag cx={q.cx} cy={q.cy} text="0.00201" fill="#ffffff" stroke="#222" />}
          />
        </ComposedChart>
      </div>

      <div style={{ position: "absolute", left: 8, top: 683, fontSize: 11, fontWeight: "bold", color: "#111" }}>
        Awesome Osc(34,5)
      </div>
      <div style={{ position: "absolute", left: 7, top: 637, fontSize: 11, color: "#222" }}>
        <span style={{ fontFamily: ICON_FONT, color: "#888", fontSize: 11 }}>⇔ ⇨⇦</span> MotiveWave
      </div>
      <div style={{ position: "absolute", left: 1563, top: 3, fontSize: 13, fontFamily: ICON_FONT, color: "#999" }}>⇨⇩⇧</div>
      <div style={{ position: "absolute", left: 1578, top: 637, fontSize: 13, fontFamily: ICON_FONT, color: "#999" }}>⇧⇩</div>
      <div style={{ position: "absolute", left: 1576, top: 677, fontSize: 13, fontFamily: ICON_FONT, color: "#999" }}>⇧⊠</div>

      <div style={{ position: "absolute", left: 0, top: 0, width: 1668, height: 3, background: "#3d3d3d" }} />
      <div style={{ position: "absolute", left: 1047, top: 0, width: 19, height: 5, background: "#555" }} />
      <div style={{ position: "absolute", left: 0, top: 0, width: 2, height: 755, background: "#3d3d3d" }} />
      <div style={{ position: "absolute", left: 1663, top: 0, width: 5, height: 755, background: "#3d3d3d" }} />
      <div style={{ position: "absolute", left: 0, top: 673, width: 1668, height: 3, background: "#4a4a4a" }} />
      <div style={{ position: "absolute", left: 0, top: 752, width: 1668, height: 3, background: "#3d3d3d" }} />
    </div>
  );
}
